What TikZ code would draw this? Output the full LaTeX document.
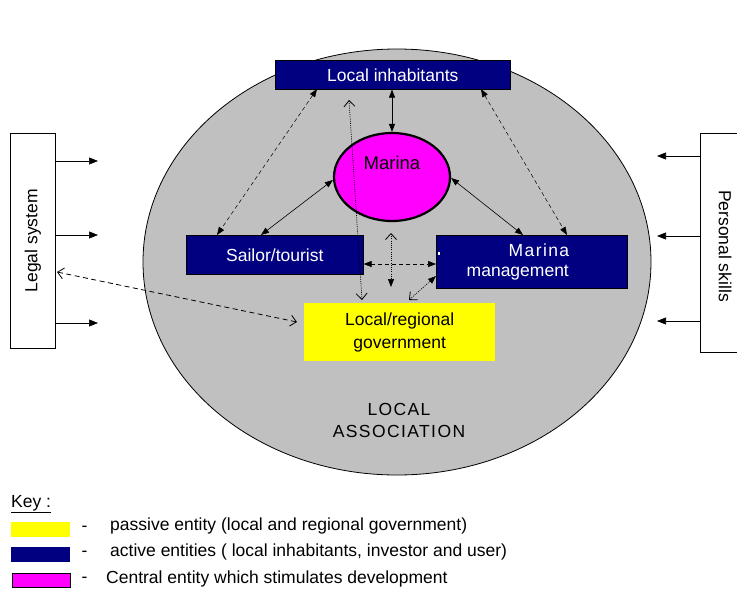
\documentclass[tikz,border=0pt]{standalone}
\usepackage{fontspec}
\setmainfont{Liberation Sans}
\newfontfamily\spacedfont[LetterSpace=8]{Liberation Sans}
\usetikzlibrary{shapes.geometric,arrows.meta}
\definecolor{navyb}{RGB}{0,0,128}
\definecolor{assocgrey}{RGB}{192,192,192}
\definecolor{passivey}{RGB}{255,255,0}
\definecolor{centralm}{RGB}{255,0,255}
\begin{document}
\begin{tikzpicture}[x=1pt,y=-1pt,
  txt/.style={font=\fontsize{17.5}{23}\selectfont},
  active/.style={txt,draw=black,line width=0.6pt,fill=navyb,text=white,inner sep=0pt,anchor=north west},
  passive/.style={txt,fill=passivey,inner sep=0pt,anchor=north west,align=center},
  outerbox/.style={draw=black,line width=0.6pt,fill=white,inner sep=0pt,anchor=north west},
  solidarr/.style={line width=0.6pt,{Triangle[length=8pt,width=6pt]}-{Triangle[length=8pt,width=6pt]}},
  dasharr/.style={line width=0.6pt,dash pattern=on 4pt off 3pt,{Triangle[length=8pt,width=6pt]}-{Triangle[length=8pt,width=6pt]}},
  openhead/.tip={Straight Barb[length=6pt,width=11pt,line width=0.8pt]},
  fillhead/.tip={Triangle[length=8pt,width=6pt]},
  outarr/.style={line width=0.6pt,-{Triangle[length=9pt,width=7pt]}},
  keybox/.style={inner sep=0pt,anchor=north west,minimum width=59pt,minimum height=15pt}
]
\useasboundingbox (0,0) rectangle (737,590);
% association
\node[ellipse,draw=black,line width=0.8pt,fill=assocgrey,minimum width=508pt,minimum height=426pt,inner sep=0pt] (assoc) at (397,262) {};
\node[txt,align=center] (assoctext) at (399,420) {\spacedfont LOCAL\\[-1pt]\spacedfont ASSOCIATION};
% outer boxes
\node[outerbox,minimum width=45pt,minimum height=215pt] (legal) at (10,133) {};
\node[txt,rotate=90] (legaltext) at (legal.center) {Legal system};
\node[outerbox,minimum width=50pt,minimum height=219pt] (skills) at (700,133) {};
\node[txt,rotate=-90] (skillstext) at (725,246) {Personal skills};
\coordinate (l1) at (98,161); \coordinate (l2) at (98,235); \coordinate (l3) at (98,323);
\coordinate (r1) at (657,156); \coordinate (r2) at (657,236); \coordinate (r3) at (657,321);
\draw[outarr] (legal.east |- l1) -- (l1);
\draw[outarr] (legal.east |- l2) -- (l2);
\draw[outarr] (legal.east |- l3) -- (l3);
\draw[outarr] (skills.west |- r1) -- (r1);
\draw[outarr] (skills.west |- r2) -- (r2);
\draw[outarr] (skills.west |- r3) -- (r3);
% entities
\node[active,minimum width=235pt,minimum height=29pt] (inh) at (275,60) {Local inhabitants};
\node[ellipse,draw=black,line width=2.2pt,fill=centralm,minimum width=116pt,minimum height=88pt,inner sep=0pt] (marina) at (392,177) {};
\node[txt,font=\fontsize{18.5}{23}\selectfont] (marinatext) at (392,163) {Marina};
\node[active,minimum width=177pt,minimum height=39pt] (sailor) at (186,235) {Sailor/tourist};
\node[active,minimum width=191pt,minimum height=53pt,align=left] (mgmt) at (436,235) {\hspace*{42pt}{\spacedfont Marina}\\[-3pt]management\hbox to 28pt{}};
\fill[white] (437.5,252) rectangle (439.5,254.5);
\node[passive,minimum width=191pt,minimum height=58pt] (gov) at (304,303) {Local/regional\\government};
% connectors
\draw[solidarr] (inh.south -| marina.north) -- (marina.north);
\draw[solidarr] (marina.west) ++(0,3) coordinate (mw) (mw) -- (261,235) coordinate (sa);
\draw[solidarr] (marina.east) ++(0,1) coordinate (me) (me) -- (523,235) coordinate (mb);
\draw[dasharr,line width=0.5pt] (317,89) coordinate (ia) -- (217,235) coordinate (sb);
\draw[dasharr,line width=0.5pt] (481,89) coordinate (ib) -- (567,235) coordinate (mc);
\draw[line width=0.7pt,dash pattern=on 1pt off 1.2pt,openhead-openhead] (349,100) coordinate (da) -- (362,300) coordinate (db);
\draw[line width=0.7pt,dash pattern=on 1pt off 1.2pt,openhead-fillhead] (391,233) coordinate (va) -- (391,287) coordinate (vb);
\draw[dasharr,line width=0.6pt] (sailor.east |- 0,264) -- (mgmt.west |- 0,264);
\draw[line width=0.7pt,dash pattern=on 1pt off 1.2pt,openhead-fillhead] (409,300) coordinate (ga) -- (436,276) coordinate (gb);
\draw[line width=0.8pt,dash pattern=on 5pt off 3.5pt,openhead-openhead] (57,272) coordinate (la) -- (297,322) coordinate (lb);
% key
\node[txt,anchor=north west,inner sep=0pt] (key) at (11,495) {\underline{Key :}};
\node[keybox,fill=passivey] (k1) at (11,522) {};
\node[keybox,fill=navyb] (k2) at (11,547) {};
\node[keybox,fill=centralm,draw=black,line width=1pt,minimum width=58pt,minimum height=14pt] (k3) at (11.5,572.5) {};
\node[txt,anchor=west] (d1) at (78,529) {-};
\node[txt,anchor=west] (d2) at (78,554) {-};
\node[txt,anchor=west] (d3) at (78,580) {-};
\node[txt,anchor=west,inner sep=0pt] (t1) at (110,526) {passive entity (local and regional government)};
\node[txt,anchor=west,inner sep=0pt] (t2) at (110,552) {active entities ( local inhabitants, investor and user)};
\node[txt,anchor=west,inner sep=0pt] (t3) at (106,579) {Central entity which stimulates development};
\end{tikzpicture}
\end{document}
